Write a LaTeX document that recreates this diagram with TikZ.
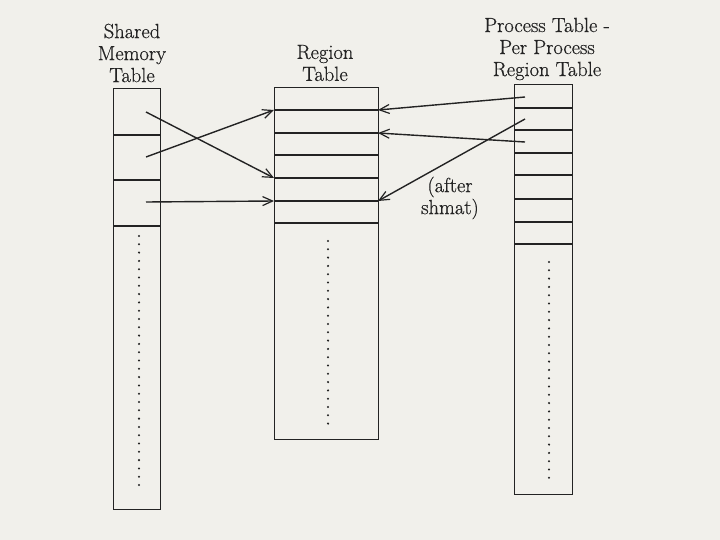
\documentclass[tikz,border=0pt]{standalone}
\usepackage{fontspec}
\setmainfont{Latin Modern Roman}[FakeBold=0.6]
\usetikzlibrary{arrows.meta}
\definecolor{paper}{RGB}{241,240,235}
\definecolor{ink}{RGB}{35,35,35}
\begin{document}
\begin{tikzpicture}[x=1pt,y=-1pt,
  tbl/.style={draw=ink, line width=1.4pt, anchor=north west, inner sep=0pt},
  rowline/.style={draw=ink, line width=1.4pt},
  lbl/.style={text=ink, font=\fontsize{20.5}{22}\selectfont, align=center},
  ptr/.style={draw=ink, line width=1.4pt, -{Straight Barb[length=10pt,width=9pt,line width=1.2pt]}},
  dotcol/.style={draw=ink, line width=2.3pt, line cap=round, dash pattern=on 0pt off 8.3pt}]
\fill[paper] (0,0) rectangle (720,540);
\useasboundingbox (0,0) rectangle (720,540);

% labels
\node[lbl] (lshm) at (132,53) {Shared\\Memory\\Table};
\node[lbl] (lreg) at (325,63) {Region\\Table};
\node[lbl] (lproc) at (547,49) {Process Table -\\Per Process\\Region Table};
\node[lbl] (after) at (450,198) {(after\\shmat)};

% shared memory table
\node[tbl, minimum width=47pt, minimum height=421pt] (shm) at (113,88) {};
\foreach \y in {135,180,226} \draw[rowline] (113,\y) -- (160,\y);
\draw[dotcol] (139,236) -- (139,487);

% region table
\node[tbl, minimum width=104pt, minimum height=352pt] (reg) at (274,87) {};
\foreach \y in {110,133,155,178,201,223} \draw[rowline] (274,\y) -- (378,\y);
\draw[dotcol] (328,241) -- (328,425);

% process table
\node[tbl, minimum width=58pt, minimum height=410pt] (proc) at (514,84) {};
\foreach \y in {108,130,153,175,199,222,244} \draw[rowline] (514,\y) -- (572,\y);
\draw[dotcol] (549,262) -- (549,482);

% arrow end points
\coordinate (s1) at (146,112);
\coordinate (s2) at (146,157);
\coordinate (s3) at (146,202);
\coordinate (rL1) at (274,110);
\coordinate (rL4) at (274,178);
\coordinate (rL5) at (274,201);
\coordinate (rR1) at (378,110);
\coordinate (rR2) at (378,133);
\coordinate (rR5) at (378,201);
\coordinate (p1) at (525,97);
\coordinate (p2) at (525,142);
\coordinate (p3) at (525,119);

\draw[ptr] (s1) -- (rL4);
\draw[ptr] (s2) -- (rL1);
\draw[ptr] (s3) -- (rL5);
\draw[ptr] (p1) -- (rR1);
\draw[ptr] (p2) -- (rR2);
\draw[ptr] (p3) -- (rR5);
\end{tikzpicture}
\end{document}
